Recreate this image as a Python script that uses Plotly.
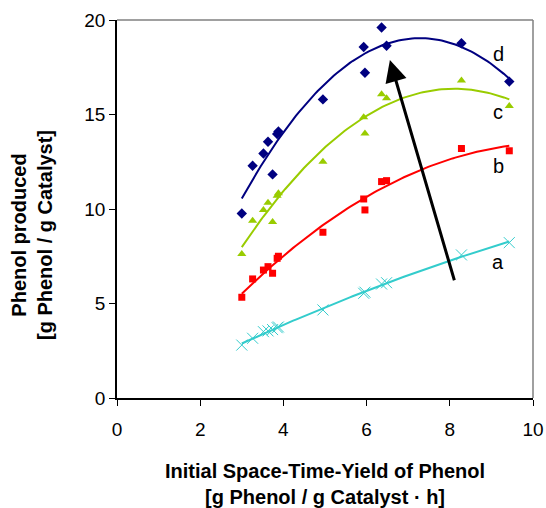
import numpy as np
import plotly.graph_objects as go

x_vals = [3.0, 3.26, 3.52, 3.63, 3.74, 3.85, 3.88, 4.95, 5.93, 5.96, 6.36, 6.48, 8.28, 9.43]
a_vals = [2.8, 3.16, 3.51, 3.55, 3.62, 3.72, 3.76, 4.66, 5.54, 5.6, 6.03, 6.1, 7.57, 8.22]
b_vals = [5.33, 6.3, 6.77, 6.95, 6.6, 7.39, 7.5, 8.77, 10.53, 9.95, 11.45, 11.5, 13.2, 13.08]
c_vals = [7.62, 9.38, 9.95, 10.33, 9.31, 10.7, 10.83, 12.5, 14.85, 14.0, 16.07, 15.86, 16.8, 15.45]
d_vals = [9.76, 12.29, 12.94, 13.56, 11.83, 13.97, 14.1, 15.8, 18.57, 17.21, 19.6, 18.64, 18.77, 16.74]

series_names = ["a", "b", "c", "d"]
label_pos = {"a": (9.17, 7.2), "b": (9.17, 12.28), "c": (9.15, 15.13), "d": (9.17, 18.2)}
arrow_tail = (8.12, 6.15)
arrow_tip = (6.56, 17.88)

x_ticks = [0, 2, 4, 6, 8, 10]
y_ticks = [0, 5, 10, 15, 20]

FONT = "Arial, Liberation Sans, sans-serif"

styles = {
    "a": dict(color="#33CCCC", symbol="x-thin-open", size=11),
    "b": dict(color="#FF0000", symbol="square", size=7),
    "c": dict(color="#99CC00", symbol="triangle-up", size=8),
    "d": dict(color="#000080", symbol="diamond", size=8),
}
data = {"a": a_vals, "b": b_vals, "c": c_vals, "d": d_vals}

fig = go.Figure()
xs = np.array(x_vals)
xfit = np.linspace(xs.min(), xs.max(), 100)
for name in series_names:
    st = styles[name]
    ys = np.array(data[name])
    coef = np.polyfit(xs, ys, 2)
    fig.add_trace(go.Scatter(x=xfit, y=np.polyval(coef, xfit), mode="lines",
                             line=dict(color=st["color"], width=2), showlegend=False,
                             hoverinfo="skip"))
    marker = dict(color=st["color"], symbol=st["symbol"], size=st["size"])
    if "open" in st["symbol"]:
        marker["line"] = dict(color=st["color"], width=1)
    else:
        marker["line"] = dict(width=0)
    fig.add_trace(go.Scatter(x=x_vals, y=data[name], mode="markers", marker=marker,
                             showlegend=False, name=name))

annotations = []
for name in series_names:
    lx, ly = label_pos[name]
    annotations.append(dict(x=lx, y=ly, xref="x", yref="y", text=name, showarrow=False,
                            font=dict(family=FONT, size=20, color="black")))
annotations.append(dict(x=arrow_tip[0], y=arrow_tip[1], ax=arrow_tail[0], ay=arrow_tail[1],
                        xref="x", yref="y", axref="x", ayref="y", text="", showarrow=True,
                        arrowhead=2, arrowsize=1.45, arrowwidth=3, arrowcolor="black"))
annotations.append(dict(x=0.5, y=-0.228, xref="paper", yref="paper",
                        text="<b>Initial Space-Time-Yield of Phenol<br>[g Phenol / g Catalyst · h]</b>",
                        showarrow=False, yanchor="middle", font=dict(family=FONT, size=20, color="black")))
annotations.append(dict(x=-0.203, y=0.43, xref="paper", yref="paper", textangle=-90,
                        text="<b>Phenol produced<br>[g Phenol / g Catalyst]</b>",
                        showarrow=False, xanchor="center", yanchor="middle",
                        font=dict(family=FONT, size=20, color="black")))

fig.update_layout(
    width=546, height=508,
    margin=dict(l=117, r=13, t=20, b=110, autoexpand=False),
    paper_bgcolor="white", plot_bgcolor="white",
    font=dict(family=FONT, size=19, color="black"),
    annotations=annotations,
    shapes=[
        dict(type="line", xref="paper", yref="paper", x0=0, x1=1, y0=1, y1=1,
             line=dict(color="#808080", width=1.5)),
        dict(type="line", xref="paper", yref="paper", x0=1, x1=1, y0=0, y1=1,
             line=dict(color="#808080", width=1.5)),
    ],
)
fig.update_xaxes(range=[0, 10], tickvals=x_ticks, ticks="outside", ticklen=6, tickcolor="black",
                 showline=True, linecolor="black", linewidth=1.5, showgrid=False, zeroline=False,
                 automargin=False, ticklabelstandoff=7,
                 tickfont=dict(family=FONT, size=19))
fig.update_yaxes(range=[0, 20], tickvals=y_ticks, ticks="outside", ticklen=6, tickcolor="black",
                 showline=True, linecolor="black", linewidth=1.5, showgrid=False, zeroline=False,
                 automargin=False,
                 tickfont=dict(family=FONT, size=19))

fig.write_html("out.html")
